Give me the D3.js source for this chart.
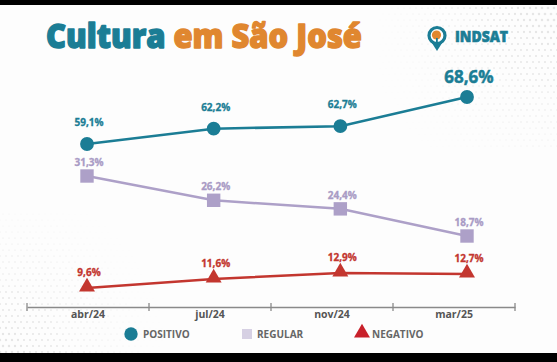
<!DOCTYPE html>
<html>
<head>
<meta charset="utf-8">
<script src="https://cdn.jsdelivr.net/npm/d3@7"></script>
<style>
	body { margin: 0; background: #000; }
	svg { display: block; }
	text { font-family: "Open Sans", "DejaVu Sans", sans-serif; }
</style>
</head>
<body>
<div id="chart"><svg></svg></div>
<script>
//Data.
const months = ['abr/24', 'jul/24', 'nov/24', 'mar/25'];
const positivo = [59.1, 62.2, 62.7, 68.6];
const regular = [31.3, 26.2, 24.4, 18.7];
const negativo = [9.6, 11.6, 12.9, 12.7];
const legendLabels = ['POSITIVO', 'REGULAR', 'NEGATIVO'];

const width = 557, height = 362;
const teal = '#1b7d95', lilac = '#ada0c8', red = '#c3362f', orange = '#e0872f';

const svg = d3.select('#chart').select('svg')
	.attr('width', width)
	.attr('height', height);

//White card between the black bars.
svg.append('rect')
	.attr('x', 0).attr('y', 5)
	.attr('width', width).attr('height', 348)
	.attr('fill', '#fdfdfd');

//Faint halftone dots, top right and bottom left.
const dots = svg.append('g').attr('fill', '#e6e6e6');
for (let gx = 0; gx < 30; gx++) {
	for (let gy = 0; gy < 24; gy++) {
		const x = 380 + gx * 6 + (gy % 2) * 3, y = 8 + gy * 6;
		const d = Math.hypot(x - 557, y - 5);
		const r = Math.max(0, 1.4 - d / 160);
		if (r > 0.2) dots.append('circle').attr('cx', x).attr('cy', y).attr('r', r);
		const x2 = gx * 6 + (gy % 2) * 3, y2 = 352 - gy * 6;
		const d2 = Math.hypot(x2, y2 - 352);
		const r2 = Math.max(0, 1.3 - d2 / 150);
		if (r2 > 0.2) dots.append('circle').attr('cx', x2).attr('cy', y2).attr('r', r2);
	}
}

//Title. A thin stroke in the fill colour makes it as heavy as the original.
const title = svg.append('text')
	.attr('x', 46)
	.attr('y', 48)
	.attr('font-size', 33)
	.attr('font-weight', 800)
	.attr('stroke-width', 1.4)
	.attr('stroke-linejoin', 'round')
	.attr('textLength', 316)
	.attr('lengthAdjust', 'spacingAndGlyphs');
title.append('tspan').text('Cultura ').attr('fill', teal).attr('stroke', teal);
title.append('tspan').text('em São José').attr('fill', orange).attr('stroke', orange);

//Logo.
const logo = svg.append('g');
logo.append('path')
	.attr('d', 'M430,40 L437,51 L444,40 Z')
	.attr('fill', teal);
logo.append('circle')
	.attr('cx', 437).attr('cy', 35.5).attr('r', 8)
	.attr('fill', '#fff').attr('stroke', teal).attr('stroke-width', 3.2);
logo.append('circle')
	.attr('cx', 436.5).attr('cy', 35).attr('r', 4.6)
	.attr('fill', orange);
logo.append('rect')
	.attr('x', 436).attr('y', 38).attr('width', 1.8).attr('height', 8)
	.attr('fill', teal);
logo.append('text')
	.text('INDSAT')
	.attr('x', 455).attr('y', 42)
	.attr('font-size', 15)
	.attr('font-weight', 800)
	.attr('fill', teal)
	.attr('stroke', teal)
	.attr('stroke-width', 0.6)
	.attr('textLength', 53)
	.attr('lengthAdjust', 'spacingAndGlyphs');

//Scales. Each series sits in its own band of the chart.
const x = d3.scalePoint().domain(months).range([87, 467]);
const xBand = d3.scaleBand().domain(months).range([27, 515]);
const yPos = d3.scaleLinear().domain([59.1, 68.6]).range([144, 97]);
const yReg = d3.scaleLinear().domain([18.7, 31.3]).range([236, 176]);
const yNeg = d3.scaleLinear().domain([9.6, 12.9]).range([288, 273]);

const fmt = v => d3.format('.1f')(v).replace('.', ',') + '%';

//Axis.
const axis = svg.append('g')
	.attr('transform', 'translate(0, 307)')
	.call(d3.axisBottom(xBand).tickSize(0).tickPadding(4));
axis.select('.domain').attr('stroke', '#8a8a8a').attr('stroke-width', 1.3);
axis.selectAll('text')
	.attr('font-size', 10.5)
	.attr('font-weight', 700)
	.attr('fill', '#555')
	.attr('font-family', '"Open Sans", sans-serif');
const edges = [...months.map(m => xBand(m)), xBand.range()[1]];
axis.selectAll('line.edge')
	.data(edges)
	.join('line')
	.attr('class', 'edge')
	.attr('x1', d => d).attr('x2', d => d)
	.attr('y1', -4).attr('y2', 4)
	.attr('stroke', '#8a8a8a').attr('stroke-width', 1.3);

//Series.
const series = [
	{values: positivo, y: yPos, color: teal, labelColor: teal, shape: 'circle', dy: -22},
	{values: regular, y: yReg, color: lilac, labelColor: '#a99bc5', shape: 'square', dy: -14},
	{values: negativo, y: yNeg, color: red, labelColor: red, shape: 'triangle', dy: -16}
];

const line = s => d3.line()
	.x((d, i) => x(months[i]))
	.y(d => s.y(d));

series.forEach(s => {
	const g = svg.append('g');
	g.append('path')
		.datum(s.values)
		.attr('d', line(s))
		.attr('fill', 'none')
		.attr('stroke', s.color)
		.attr('stroke-width', 2.5);
	const sym = s.shape === 'circle' ? d3.symbolCircle : s.shape === 'square' ? d3.symbolSquare : d3.symbolTriangle;
	const size = s.shape === 'circle' ? 150 : s.shape === 'square' ? 180 : 110;
	g.selectAll('path.mark')
		.data(s.values)
		.join('path')
		.attr('class', 'mark')
		.attr('d', d3.symbol(sym, size))
		.attr('transform', (d, i) => `translate(${x(months[i])}, ${s.y(d) - (s.shape === 'triangle' ? 1 : 0)})`)
		.attr('fill', s.color);
	g.selectAll('text')
		.data(s.values)
		.join('text')
		.attr('class', 'value')
		.text(d => fmt(d))
		.attr('x', (d, i) => x(months[i]) + 2)
		.attr('y', (d, i) => s.y(d) + s.dy + 4)
		.attr('text-anchor', 'middle')
		.attr('font-size', 10)
		.attr('font-weight', 700)
		.attr('fill', s.labelColor)
		.attr('stroke', s.labelColor)
		.attr('stroke-width', 0.3);
});

//Highlight the latest positive value.
const last = positivo.length - 1;
svg.selectAll('text.value')
	.filter(function () { return d3.select(this).text() === fmt(positivo[last]); })
	.attr('font-size', 17)
	.attr('stroke-width', 0.5)
	.attr('y', yPos(positivo[last]) - 14);

//Legend.
const legend = svg.append('g').attr('transform', 'translate(0, 334)');
const legendX = [131, 247, 362];
const legendSym = [d3.symbolCircle, d3.symbolSquare, d3.symbolTriangle];
const legendSize = [140, 100, 110];
const legendColor = [teal, '#d6d0e3', '#c8202a'];
legend.selectAll('path')
	.data(legendLabels)
	.join('path')
	.attr('d', (d, i) => d3.symbol(legendSym[i], legendSize[i])())
	.attr('transform', (d, i) => `translate(${legendX[i]}, ${i === 2 ? -1 : 0})`)
	.attr('fill', (d, i) => legendColor[i]);
legend.selectAll('text')
	.data(legendLabels)
	.join('text')
	.text(d => d)
	.attr('x', (d, i) => legendX[i] + (i === 0 ? 12 : 10))
	.attr('y', 4)
	.attr('font-size', 10)
	.attr('font-weight', 700)
	.attr('fill', '#666');

//Black bars top and bottom.
svg.append('rect').attr('x', 0).attr('y', 0).attr('width', width).attr('height', 5).attr('fill', '#000');
svg.append('rect').attr('x', 0).attr('y', 353).attr('width', width).attr('height', 9).attr('fill', '#000');
</script>
</body>
</html>
